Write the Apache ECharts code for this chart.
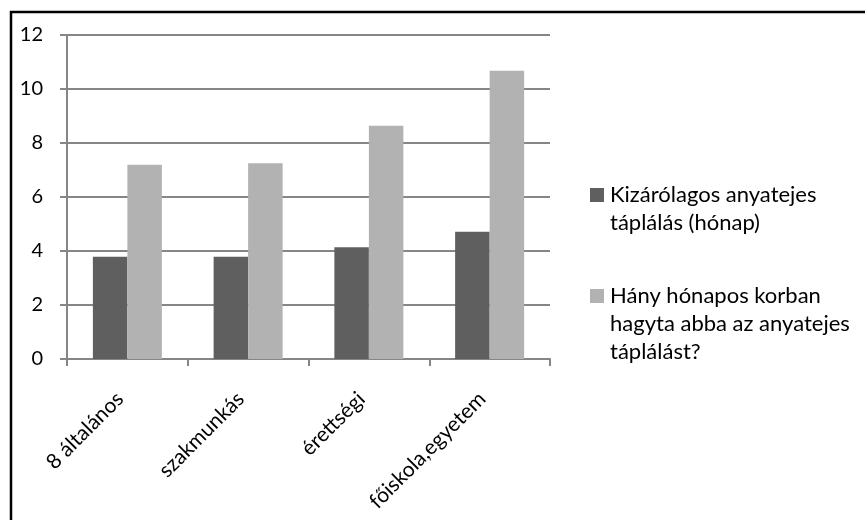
<!DOCTYPE html>
<html>
<head>
<meta charset="utf-8">
<script src="https://cdn.jsdelivr.net/npm/echarts@6/dist/echarts.min.js"></script>
<style>
  html, body { margin: 0; padding: 0; background: #fff; }
  #chart { width: 865px; height: 520px; }
</style>
</head>
<body>
<div id="chart"></div>
<script>
  // categories and values
  var categories = ['8 általános', 'szakmunkás', 'érettségi', 'főiskola,egyetem'];
  var exclusive = [3.79, 3.79, 4.14, 4.71];
  var stopped = [7.19, 7.25, 8.64, 10.68];
  var seriesNames = ['Kizárólagos anyatejes táplálás (hónap)', 'Hány hónapos korban hagyta abba az anyatejes táplálást?'];
  var legendLines = [
    ['Kizárólagos anyatejes', 'táplálás (hónap)'],
    ['Hány hónapos korban', 'hagyta abba az anyatejes', 'táplálást?']
  ];
  var yTicks = { min: 0, max: 12, interval: 2 };

  var font = 'Lato, "Open Sans", sans-serif';
  var chart = echarts.init(document.getElementById('chart'));

  chart.setOption({
    animation: false,
    backgroundColor: '#fff',
    textStyle: { fontFamily: font },
    grid: { left: 67, top: 35, width: 483, height: 324 },
    legend: {
      orient: 'vertical',
      left: 580,
      top: 179,
      itemGap: 51,
      itemWidth: 0,
      itemHeight: 0,
      icon: 'rect',
      data: seriesNames,
      formatter: function (name) {
        var idx = seriesNames.indexOf(name);
        return legendLines[idx].map(function (l, i) {
          return (i === 0 ? '{sq' + idx + '|}' : '{ind|}') + '{t|' + l + '}';
        }).join('\n');
      },
      textStyle: {
        fontSize: 22,
        fontFamily: font,
        rich: {
          sq0: { width: 14, height: 14, backgroundColor: '#5f5f5f' },
          sq1: { width: 14, height: 14, backgroundColor: '#b2b2b2' },
          ind: { width: 14 },
          t: { fontSize: 22, lineHeight: 28, color: '#000', fontFamily: font, padding: [0, 0, 0, 6] }
        }
      }
    },
    xAxis: {
      type: 'category',
      data: categories,
      axisLine: { lineStyle: { color: '#868686', width: 2 } },
      axisTick: { show: true, length: 7, lineStyle: { color: '#868686', width: 2 } },
      axisLabel: {
        rotate: 45, fontSize: 21, fontFamily: font, color: '#000',
        verticalAlign: 'bottom', margin: 44, interval: 0
      }
    },
    yAxis: {
      type: 'value',
      min: yTicks.min,
      max: yTicks.max,
      interval: yTicks.interval,
      axisLine: { show: true, lineStyle: { color: '#868686', width: 2 } },
      axisTick: { show: true, length: 7, lineStyle: { color: '#868686', width: 2 } },
      axisLabel: { fontSize: 20, fontFamily: font, color: '#000', margin: 24 },
      splitLine: { lineStyle: { color: '#868686', width: 2 } }
    },
    series: [
      {
        name: seriesNames[0],
        type: 'bar',
        data: exclusive,
        barWidth: 34.5,
        barGap: '0%',
        itemStyle: { color: '#5f5f5f' }
      },
      {
        name: seriesNames[1],
        type: 'bar',
        data: stopped,
        barWidth: 34.5,
        itemStyle: { color: '#b2b2b2' }
      }
    ],
    graphic: [
      {
        type: 'rect',
        shape: { x: 11, y: 12, width: 900, height: 600 },
        style: { fill: 'none', stroke: '#000', lineWidth: 2.5 },
        silent: true
      }
    ]
  });
</script>
</body>
</html>
